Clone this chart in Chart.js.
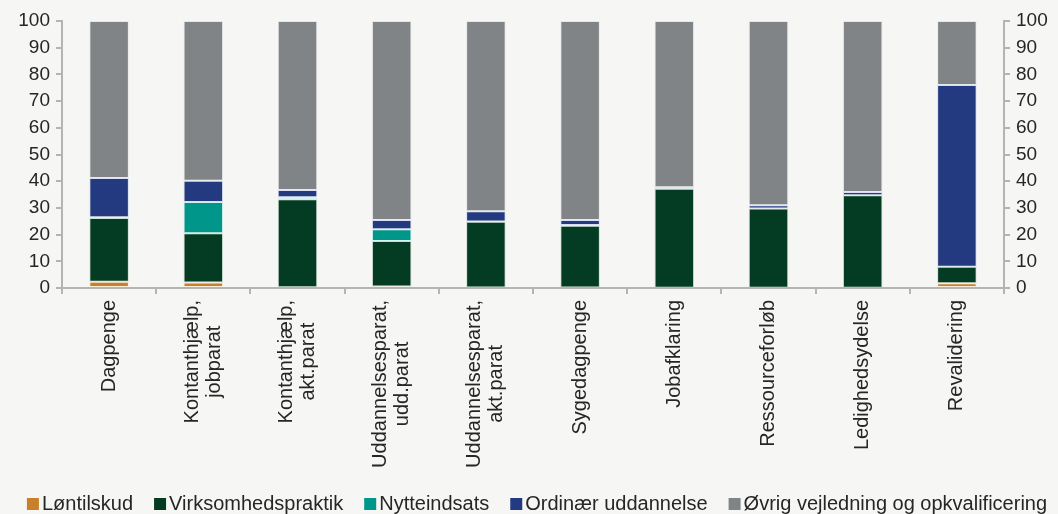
<!DOCTYPE html>
<html>
<head>
<meta charset="utf-8">
<script src="https://cdn.jsdelivr.net/npm/chart.js@4.4.1/dist/chart.umd.min.js"></script>
<style>
  html, body { margin: 0; padding: 0; background: #f6f6f5; }
  #wrap { width: 1058px; height: 514px; position: relative; }
</style>
</head>
<body>
<div id="wrap"><canvas id="chart"></canvas></div>
<script>
// Fordeling af aktiveringsforløb pr. ydelsesgruppe (pct.)
const categories = [
  ['Dagpenge'],
  ['Kontanthjælp,', 'jobparat'],
  ['Kontanthjælp,', 'akt.parat'],
  ['Uddannelsesparat,', 'udd.parat'],
  ['Uddannelsesparat,', 'akt.parat'],
  ['Sygedagpenge'],
  ['Jobafklaring'],
  ['Ressourceforløb'],
  ['Ledighedsydelse'],
  ['Revalidering']
];
const loentilskud      = [2.3, 2.1, 0.3, 0.6, 0.2, 0.2, 0.1, 0.1, 0.1, 1.8];
const virksomhed       = [23.9, 18.4, 32.9, 17.0, 24.6, 23.1, 37.1, 29.7, 34.6, 6.2];
const nytteindsats     = [0.3, 11.7, 0.8, 4.4, 0.1, 0.3, 0, 0, 0, 0];
const ordinaer         = [14.7, 8.0, 2.7, 3.5, 3.8, 1.9, 0.5, 1.2, 1.3, 68.0];
const oevrig           = [58.8, 59.8, 63.3, 74.5, 71.3, 74.5, 62.3, 69.0, 64.0, 24.0];
const yTicks = [0, 10, 20, 30, 40, 50, 60, 70, 80, 90, 100];

const axisColor = '#b4b4b4';
const textColor = '#262626';
const fontFamily = '"Liberation Sans", Arial, sans-serif';
Chart.defaults.font.family = fontFamily;
Chart.defaults.color = textColor;

function series(label, data, color, edge) {
  return {
    label, data,
    backgroundColor: color,
    borderColor: edge,
    borderWidth: 1,
    borderSkipped: false,
    barPercentage: 0.42,
    categoryPercentage: 1
  };
}

// baggrund
const bgPlugin = {
  id: 'bg',
  beforeDraw(chart) {
    const { ctx, width, height } = chart;
    ctx.save();
    ctx.fillStyle = '#f6f6f5';
    ctx.fillRect(0, 0, width, height);
    ctx.restore();
  }
};

// lodrette kategorinavne, linjerne centreret om hinanden
const xLabelPlugin = {
  id: 'xLabels',
  afterDraw(chart) {
    const { ctx } = chart;
    const x = chart.scales.x;
    ctx.save();
    ctx.font = '20px ' + fontFamily;
    ctx.fillStyle = textColor;
    ctx.textAlign = 'center';
    ctx.textBaseline = 'middle';
    const lh = 22;
    categories.forEach((lines, i) => {
      const cx = x.getPixelForValue(i);
      const w = Math.max(...lines.map(l => ctx.measureText(l).width));
      const top = x.top + 12;
      lines.forEach((line, j) => {
        ctx.save();
        ctx.translate(cx + (j - (lines.length - 1) / 2) * lh, top + w / 2);
        ctx.rotate(-Math.PI / 2);
        ctx.fillText(line, 0, 0);
        ctx.restore();
      });
    });
    ctx.restore();
  }
};

// forklaring nederst: lille kasse tæt på teksten
const legendPlugin = {
  id: 'tightLegend',
  afterDraw(chart) {
    const { ctx, width } = chart;
    const box = 12, gapBox = 3, gapItem = 21, cy = 503;
    ctx.save();
    ctx.font = '20px ' + fontFamily;
    ctx.textBaseline = 'middle';
    ctx.textAlign = 'left';
    const items = chart.data.datasets.map(ds => ({
      text: ds.label, color: ds.backgroundColor, w: ctx.measureText(ds.label).width
    }));
    const total = items.reduce((a, it) => a + box + gapBox + it.w, 0) + gapItem * (items.length - 1);
    let x = (width - total) / 2 + 8;
    items.forEach(it => {
      ctx.fillStyle = it.color;
      ctx.fillRect(x, cy - 5, box, box);
      ctx.fillStyle = textColor;
      ctx.fillText(it.text, x + box + gapBox, cy + 1);
      x += box + gapBox + it.w + gapItem;
    });
    ctx.restore();
  }
};

const yAxis = (position, width) => ({
  position,
  stacked: true,
  min: 0,
  max: 100,
  afterBuildTicks(s) { s.ticks = yTicks.map(v => ({ value: v })); },
  afterFit(s) { s.width = width; },
  grid: { drawOnChartArea: false, tickLength: 6, color: axisColor, lineWidth: 2 },
  border: { color: axisColor, width: 2 },
  ticks: { font: { size: 19 }, color: textColor, padding: 6 }
});

new Chart(document.getElementById('chart'), {
  type: 'bar',
  data: {
    labels: categories,
    datasets: [
      series('Løntilskud', loentilskud, '#c8802a', 'rgba(255,220,170,0.3)'),
      series('Virksomhedspraktik', virksomhed, '#033c22', 'rgba(120,170,140,0.3)'),
      series('Nytteindsats', nytteindsats, '#00968a', 'rgba(140,230,220,0.3)'),
      series('Ordinær uddannelse', ordinaer, '#233a80', 'rgba(150,170,230,0.3)'),
      series('Øvrig vejledning og opkvalificering', oevrig, '#808486', 'rgba(210,212,214,0.4)')
    ]
  },
  options: {
    responsive: true,
    maintainAspectRatio: false,
    animation: false,
    layout: { padding: { top: 21, left: 0, right: 0, bottom: 40 } },
    scales: {
      x: {
        stacked: true,
        offset: true,
        afterFit(s) { s.height = 186; },
        grid: { offset: true, drawOnChartArea: false, tickLength: 6, color: axisColor, lineWidth: 2 },
        border: { color: axisColor, width: 2 },
        ticks: { display: false }
      },
      y: yAxis('left', 62),
      y2: yAxis('right', 54)
    },
    plugins: {
      legend: { display: false },
      tooltip: { enabled: false }
    }
  },
  plugins: [bgPlugin, xLabelPlugin, legendPlugin]
});
</script>
</body>
</html>
